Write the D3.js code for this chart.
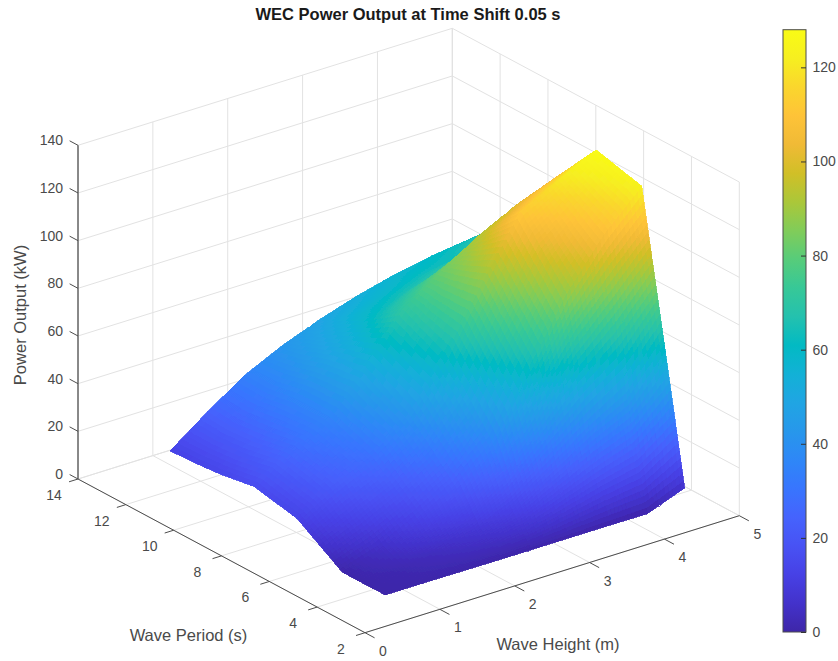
<!DOCTYPE html>
<html>
<head>
<meta charset="utf-8">
<script src="https://d3js.org/d3.v7.min.js"></script>
<style>
  html, body { margin: 0; padding: 0; background: #fff; }
  svg { display: block; }
  text { font-family: "Liberation Sans", Arial, sans-serif; fill: #4a4a4a; }
</style>
</head>
<body>
<svg id="chart" width="838" height="661"></svg>
<script>
const titleText = "WEC Power Output at Time Shift 0.05 s";
const heightTicks = [0, 1, 2, 3, 4, 5];
const periodTicks = [2, 4, 6, 8, 10, 12, 14];
const powerTicks = [0, 20, 40, 60, 80, 100, 120, 140];
const colorbarTicks = [0, 20, 40, 60, 80, 100, 120];
const colorMax = 128;

// surface samples
const waveHeights = [0.75, 1.25, 1.75, 2.25, 2.75, 3.25, 3.75, 4.25, 4.75];
const wavePeriods = [3.5, 4.4, 5.3, 7.2, 9, 10.4, 11.5, 12.5];
const powerOutput = [
    [0.4, 0.4, 0.3, 0.2, 0.2, 0.2, 0.2, 0.1, 6],
    [0.3, 1.5, 4, 8, 15, 26, 37, 46, 65],
    [0.3, 5, 13, 22, 36, 62, 88, 108, 123],
    [12.7, 22, 29, 42, 62, 88, 112, 120, 128],
    [16.4, 27, 36, 52, 71, 82, 92, 100, 106],
    [14, 24, 36, 49, 60, 66, 70, 76, 86],
    [13, 23, 34, 45, 54, 58, 62, 64, 72],
    [12.5, 24, 34.5, 42, 48, 53, 57, 60, 62]
];

// MATLAB parula
const parula = [
    [0.2422, 0.1504, 0.6603], [0.2647, 0.1978, 0.7952], [0.2783, 0.2559, 0.8991],
    [0.2810, 0.3228, 0.9579], [0.2699, 0.3892, 0.9906], [0.2206, 0.4603, 0.9973],
    [0.1786, 0.5289, 0.9682], [0.1540, 0.5902, 0.9218], [0.1248, 0.6459, 0.8883],
    [0.0689, 0.6948, 0.8394], [0.0067, 0.7312, 0.7660], [0.1408, 0.7584, 0.6842],
    [0.2161, 0.7843, 0.5923], [0.3406, 0.8008, 0.4789], [0.5044, 0.7993, 0.3480],
    [0.6720, 0.7793, 0.2227], [0.8203, 0.7498, 0.1535], [0.9393, 0.7288, 0.2100],
    [0.9970, 0.7659, 0.2199], [0.9786, 0.8386, 0.1766], [0.9628, 0.9373, 0.1265],
    [0.9769, 0.9839, 0.0805]
].map(c => d3.rgb(c[0] * 255, c[1] * 255, c[2] * 255).formatHex());

const colorScale = d3.scaleLinear()
    .domain(parula.map((c, i) => i / (parula.length - 1) * colorMax))
    .range(parula)
    .interpolate(d3.interpolateRgb)
    .clamp(true);

// oblique projection of the box, each data axis adds its own screen offset
const origin = { x: 365, y: 632.7 };
const hx = d3.scaleLinear().domain([0, 5]).range([0, 374.3]);
const hy = d3.scaleLinear().domain([0, 5]).range([0, -117]);
const tx = d3.scaleLinear().domain([2, 14]).range([0, -287]);
const ty = d3.scaleLinear().domain([2, 14]).range([0, -153.7]);
const zy = d3.scaleLinear().domain([0, 140]).range([0, -333.7]);

function project(h, t, p) {
    return [origin.x + hx(h) + tx(t), origin.y + hy(h) + ty(t) + zy(p)];
}

// bigger = further from the viewer along the line of sight
function depth(h, t, p) {
    return 0.7668 * (h / 5) + (t - 2) / 12 - 0.7294 * (p / 140);
}

const svg = d3.select("#chart");

const defs = svg.append("defs");
defs.append("filter")
    .attr("id", "soft")
    .append("feGaussianBlur")
    .attr("stdDeviation", 0.7);

// ---------------------
//   Back walls + floor
// ---------------------
const grid = svg.append("g")
    .attr("fill", "none")
    .attr("stroke", "#e2e2e2")
    .attr("stroke-width", 1);

function line3d(g, a, b) {
    const p0 = project(...a);
    const p1 = project(...b);
    return g.append("line")
        .attr("x1", p0[0]).attr("y1", p0[1])
        .attr("x2", p1[0]).attr("y2", p1[1]);
}

heightTicks.forEach(h => {
    line3d(grid, [h, 2, 0], [h, 14, 0]);
    line3d(grid, [h, 14, 0], [h, 14, 140]);
});
periodTicks.forEach(t => {
    line3d(grid, [0, t, 0], [5, t, 0]);
    line3d(grid, [5, t, 0], [5, t, 140]);
});
powerTicks.forEach(p => {
    line3d(grid, [0, 14, p], [5, 14, p]);
    line3d(grid, [5, 14, p], [5, 2, p]);
});

// ---------------------
//       Surface
// ---------------------
const stepsH = 10;
const stepsT = 20;
const patches = [];

function bilinear(i, j, a, b) {
    const p = powerOutput;
    return (1 - a) * (1 - b) * p[j][i] + a * (1 - b) * p[j][i + 1]
        + (1 - a) * b * p[j + 1][i] + a * b * p[j + 1][i + 1];
}

for (let j = 0; j < wavePeriods.length - 1; j++) {
    for (let i = 0; i < waveHeights.length - 1; i++) {
        for (let m = 0; m < stepsT; m++) {
            for (let n = 0; n < stepsH; n++) {
                const corners = [[n, m], [n + 1, m], [n + 1, m + 1], [n, m + 1]].map(([a, b]) => {
                    const fa = a / stepsH;
                    const fb = b / stepsT;
                    const h = waveHeights[i] + fa * (waveHeights[i + 1] - waveHeights[i]);
                    const t = wavePeriods[j] + fb * (wavePeriods[j + 1] - wavePeriods[j]);
                    return { h, t, p: bilinear(i, j, fa, fb) };
                });
                patches.push({
                    points: corners.map(d => project(d.h, d.t, d.p)),
                    power: d3.mean(corners, d => d.p),
                    depth: d3.mean(corners, d => depth(d.h, d.t, d.p))
                });
            }
        }
    }
}

// Sort so far patches get painted first
patches.sort((a, b) => b.depth - a.depth);

svg.append("g")
    .attr("class", "surface")
    .attr("filter", "url(#soft)")
    .attr("shape-rendering", "crispEdges")
    .selectAll("path")
    .data(patches)
    .join("path")
    .attr("d", d => "M" + d.points.join("L") + "Z")
    .attr("fill", d => colorScale(d.power))
    .attr("stroke", d => colorScale(d.power))
    .attr("stroke-width", 0.8);

// ---------------------
//        Axes
// ---------------------
const axes = svg.append("g")
    .attr("fill", "none")
    .attr("stroke", "#4d4d4d")
    .attr("stroke-width", 1);

line3d(axes, [0, 2, 0], [5, 2, 0]);
line3d(axes, [0, 2, 0], [0, 14, 0]);
line3d(axes, [0, 14, 0], [0, 14, 140]).attr("stroke", "#666").attr("stroke-width", 1.5);

heightTicks.forEach(h => line3d(axes, [h, 2, 0], [h, 1.6, 0]));
periodTicks.forEach(t => line3d(axes, [0, t, 0], [-0.12, t, 0]));
powerTicks.forEach(p => line3d(axes, [0, 14, p], [0, 14.35, p]));

const labels = svg.append("g").attr("font-size", 14);

labels.selectAll(".h-label")
    .data(heightTicks)
    .join("text")
    .attr("x", d => project(d, 2, 0)[0] + 18)
    .attr("y", d => project(d, 2, 0)[1] + 23)
    .attr("text-anchor", "middle")
    .text(d => d);

labels.selectAll(".t-label")
    .data(periodTicks)
    .join("text")
    .attr("x", d => project(0, d, 0)[0] - 24)
    .attr("y", d => project(0, d, 0)[1] + 21)
    .attr("text-anchor", "middle")
    .text(d => d);

labels.selectAll(".p-label")
    .data(powerTicks)
    .join("text")
    .attr("x", d => project(0, 14, d)[0] - 15)
    .attr("y", d => project(0, 14, d)[1])
    .attr("text-anchor", "end")
    .text(d => d);

svg.append("text")
    .attr("x", 408).attr("y", 20)
    .attr("text-anchor", "middle")
    .attr("font-size", 16.5)
    .attr("font-weight", "bold")
    .style("fill", "#1a1a1a")
    .text(titleText);

svg.append("text")
    .attr("x", 188.5).attr("y", 641)
    .attr("text-anchor", "middle")
    .attr("font-size", 16.5)
    .text("Wave Period (s)");

svg.append("text")
    .attr("x", 558).attr("y", 650)
    .attr("text-anchor", "middle")
    .attr("font-size", 16.5)
    .text("Wave Height (m)");

svg.append("text")
    .attr("transform", "translate(26,315) rotate(-90)")
    .attr("text-anchor", "middle")
    .attr("font-size", 16.5)
    .text("Power Output (kW)");

// ---------------------
//      Colorbar
// ---------------------
const barLeft = 783;
const barRight = 806;
const barScale = d3.scaleLinear().domain([0, colorMax]).range([632, 29.7]);

const gradient = defs.append("linearGradient")
    .attr("id", "parula-bar")
    .attr("x1", 0).attr("y1", 1).attr("x2", 0).attr("y2", 0);

gradient.selectAll("stop")
    .data(parula)
    .join("stop")
    .attr("offset", (d, i) => i / (parula.length - 1))
    .attr("stop-color", d => d);

svg.append("rect")
    .attr("x", barLeft)
    .attr("y", barScale(colorMax))
    .attr("width", barRight - barLeft)
    .attr("height", barScale(0) - barScale(colorMax))
    .attr("fill", "url(#parula-bar)")
    .attr("stroke", "#4d4d4d")
    .attr("stroke-width", 1);

const barAxis = svg.append("g")
    .attr("transform", `translate(${barRight},0)`)
    .call(d3.axisRight(barScale).tickValues(colorbarTicks).tickSize(-5).tickPadding(6.5));

barAxis.select(".domain").remove();
barAxis.selectAll("line").attr("stroke", "#333");
barAxis.selectAll("text")
    .attr("font-size", 14)
    .attr("font-family", "Liberation Sans, Arial, sans-serif")
    .style("fill", "#4a4a4a");
</script>
</body>
</html>
